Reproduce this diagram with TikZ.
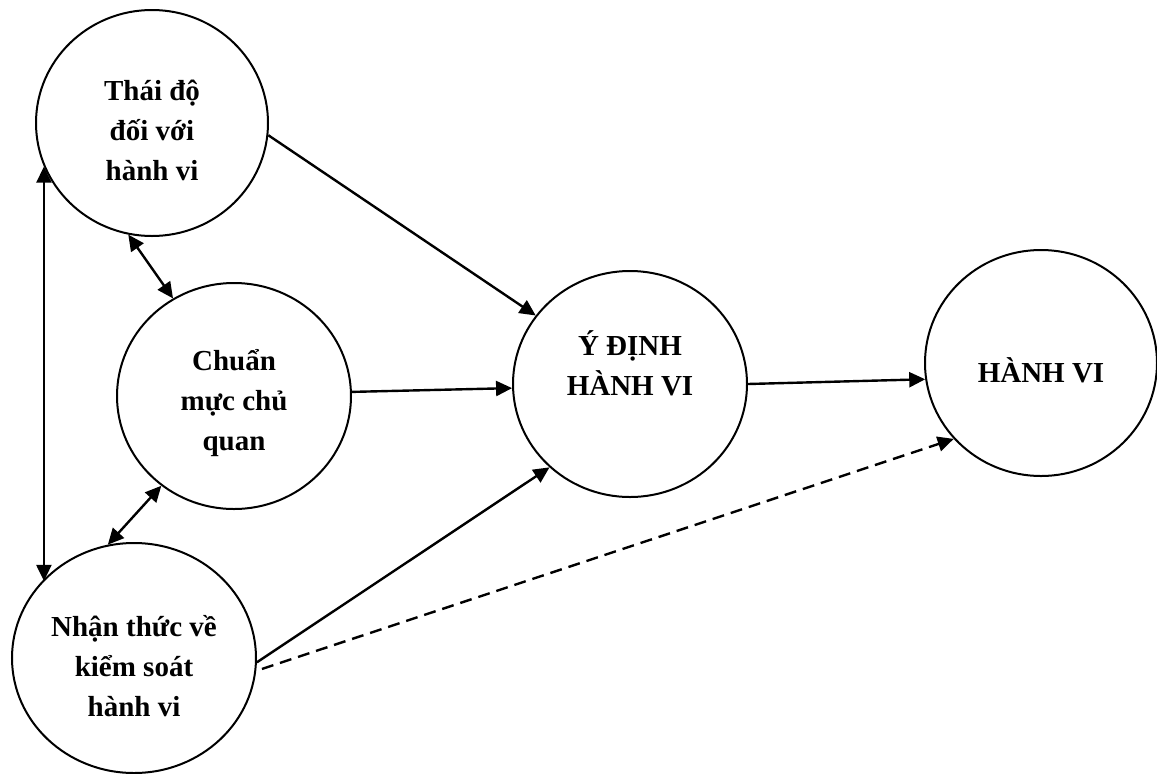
\documentclass[tikz,border=0pt]{standalone}
\usepackage{fontspec}
\setmainfont{Liberation Serif}
\usetikzlibrary{shapes.geometric,arrows.meta,calc}

\begin{document}
\begin{tikzpicture}[x=1pt,y=-1pt,
  construct/.style={ellipse, draw, line width=2pt, inner sep=0pt},
  lbl/.style={align=center, font=\fontsize{29}{40}\selectfont\bfseries, inner sep=0pt},
  head/.style={Triangle[length=16pt,width=15pt]},
  link/.style={line width=2.4pt, -{Triangle[length=16pt,width=15pt]}},
  both/.style={line width=2.4pt, {Triangle[length=16pt,width=15pt]}-{Triangle[length=16pt,width=15pt]}},
  guess/.style={link, dash pattern=on 12pt off 7pt},
]
\useasboundingbox (0,0) rectangle (1157,774);

% constructs of the model
\node[construct, minimum width=232pt, minimum height=226pt] (A) at (152,123) {};
\node[construct, minimum width=234pt, minimum height=226pt] (B) at (234,396) {};
\node[construct, minimum width=244pt, minimum height=230pt] (C) at (134,658) {};
\node[construct, minimum width=234pt, minimum height=226pt] (D) at (630,384) {};
\node[construct, minimum width=232pt, minimum height=226pt] (E) at (1041,363) {};

% their labels
\node[lbl] (tA) at (152,130) {Thái độ\\đối với\\hành vi};
\node[lbl] (tB) at (234,403) {Chuẩn\\mực chủ\\quan};
\node[lbl] (tC) at (134,666) {Nhận thức về\\kiểm soát\\hành vi};
\node[lbl] (tD) at (630,363) {Ý ĐỊNH\\HÀNH VI};
\node[lbl] (tE) at (1041,370) {HÀNH VI};

% influences on intention and behaviour
\draw[link] (A.-6) -- (D.144);
\draw[link] (B.2) -- (D.182);
\draw[link] (C.-2) -- (D.226);
\draw[link] (D.0) -- (E.188);
\draw[guess, shorten <=6pt] (C.-6) -- (E.221);

% correlations between the antecedents
\draw[both] (A.202) -- (A.202 |- C.140);
\draw[both] (A.258) -- (B.122);
\draw[both] (B.231) -- (C.103);
\end{tikzpicture}
\end{document}
